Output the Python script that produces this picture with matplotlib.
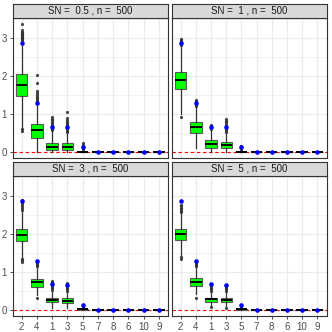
import matplotlib
matplotlib.use("Agg")
import matplotlib.pyplot as plt
import numpy as np

plt.rcParams["font.family"] = ["Liberation Sans", "DejaVu Sans"]

categories = ["2", "4", "1", "3", "5", "7", "8", "6", "10", "9"]
panel_titles = ["SN =  0.5 , n =  500", "SN =  1 , n =  500",
                "SN =  3 , n =  500", "SN =  5 , n =  500"]

# per panel: q1, median, q3, whisker low, whisker high for each category
q1_vals = [
    [1.48, 0.38, 0.05, 0.05, 0.0, 0, 0, 0, 0, 0],
    [1.66, 0.49, 0.11, 0.10, 0.0, 0, 0, 0, 0, 0],
    [1.81, 0.60, 0.20, 0.18, 0.0, 0, 0, 0, 0, 0],
    [1.84, 0.63, 0.21, 0.20, 0.0, 0, 0, 0, 0, 0],
]
med_vals = [
    [1.77, 0.57, 0.14, 0.13, 0.0, 0, 0, 0, 0, 0],
    [1.90, 0.66, 0.22, 0.19, 0.0, 0, 0, 0, 0, 0],
    [1.97, 0.72, 0.26, 0.24, 0.005, 0, 0, 0, 0, 0],
    [1.99, 0.74, 0.27, 0.26, 0.005, 0, 0, 0, 0, 0],
]
q3_vals = [
    [2.06, 0.73, 0.25, 0.23, 0.01, 0, 0, 0, 0, 0],
    [2.12, 0.79, 0.31, 0.27, 0.01, 0, 0, 0, 0, 0],
    [2.14, 0.82, 0.32, 0.30, 0.01, 0, 0, 0, 0, 0],
    [2.12, 0.83, 0.32, 0.32, 0.01, 0, 0, 0, 0, 0],
]
wlo_vals = [
    [0.62, 0.0, 0.0, 0.0, 0.0, 0, 0, 0, 0, 0],
    [1.00, 0.11, 0.0, 0.0, 0.0, 0, 0, 0, 0, 0],
    [1.36, 0.38, 0.05, 0.05, 0.0, 0, 0, 0, 0, 0],
    [1.42, 0.40, 0.10, 0.08, 0.0, 0, 0, 0, 0, 0],
]
whi_vals = [
    [2.92, 1.25, 0.55, 0.50, 0.02, 0, 0, 0, 0, 0],
    [2.80, 1.20, 0.60, 0.52, 0.02, 0, 0, 0, 0, 0],
    [2.60, 1.12, 0.50, 0.48, 0.02, 0, 0, 0, 0, 0],
    [2.54, 1.12, 0.48, 0.48, 0.02, 0, 0, 0, 0, 0],
]
outliers = [
    [
        [2.95, 2.98, 3.0, 3.03, 3.05, 3.08, 3.1, 3.13, 3.16, 3.2, 3.38, 0.6, 0.56],
        [1.3, 1.34, 1.38, 1.42, 1.46, 1.5, 1.55, 1.61, 1.81, 2.03],
        [0.57, 0.6, 0.64, 0.68, 0.72, 0.76, 0.8, 0.84, 0.88, 0.93],
        [0.52, 0.56, 0.6, 0.64, 0.68, 0.72, 0.76, 0.8, 0.85, 0.9, 1.06],
        [0.04, 0.07, 0.1, 0.14, 0.18, 0.24],
        [], [], [], [], [],
    ],
    [
        [2.82, 2.86, 2.9, 2.94, 2.98, 0.93],
        [1.22, 1.25, 1.28, 1.31, 1.34, 1.38],
        [0.62, 0.65, 0.68, 0.71],
        [0.54, 0.58, 0.62, 0.66, 0.7, 0.74, 0.78, 0.82, 0.86],
        [0.04, 0.08, 0.12, 0.16],
        [], [], [], [], [],
    ],
    [
        [2.62, 2.68, 2.73, 2.78, 2.83, 2.89, 1.33, 1.3, 1.27],
        [1.14, 1.17, 1.2, 1.23, 1.26, 0.3],
        [0.52, 0.56, 0.6, 0.64, 0.68, 0.72, 0.75],
        [0.5, 0.54, 0.58, 0.62, 0.66, 0.7],
        [0.03, 0.06, 0.09, 0.12],
        [], [], [], [], [],
    ],
    [
        [2.57, 2.61, 2.65, 2.69, 2.73, 2.77, 1.39, 1.35],
        [1.14, 1.17, 1.2, 1.25, 0.32],
        [0.5, 0.54, 0.58, 0.62, 0.66, 0.07],
        [0.5, 0.54, 0.58, 0.62, 0.65, 0.04],
        [0.03, 0.06, 0.09, 0.12],
        [], [], [], [], [],
    ],
]
true_vals = [2.86, 1.28, 0.67, 0.65, 0.13, 0.0, 0.0, 0.0, 0.0, 0.0]

W, H = 332, 332
fig = plt.figure(figsize=(W / 100, H / 100), dpi=100)
fig.patch.set_facecolor("white")

# panel rectangles in pixels: (left, top, right, bottom)
panel_px = [(12.5, 18, 168, 158.5), (171.5, 18, 326.5, 158.5),
            (12.5, 176, 168, 316), (171.5, 176, 326.5, 316)]
strip_h = 14.5

xs = np.arange(1, len(categories) + 1)
for p, (l, t, r, b) in enumerate(panel_px):
    ax = fig.add_axes([l / W, 1 - b / H, (r - l) / W, (b - t) / H])
    ax.set_facecolor("white")

    stats = []
    for i in range(len(categories)):
        stats.append(dict(med=med_vals[p][i], q1=q1_vals[p][i], q3=q3_vals[p][i],
                          whislo=wlo_vals[p][i], whishi=whi_vals[p][i],
                          fliers=outliers[p][i]))
    ax.bxp(stats, positions=xs, widths=0.75, patch_artist=True, manage_ticks=False,
           boxprops=dict(facecolor="#00FF00", edgecolor="#595959", lw=0.8),
           medianprops=dict(color="black", lw=1.4),
           whiskerprops=dict(color="#333333", lw=0.9),
           capprops=dict(lw=0),
           flierprops=dict(marker="o", markersize=2.3, markerfacecolor="#333333",
                           markeredgecolor="none", alpha=0.9),
           zorder=3)
    ax.plot(xs, true_vals, "o", color="blue", markersize=3.3, zorder=5, lw=0,
            markeredgewidth=0)
    ax.axhline(0, color="red", ls=(0, (3, 2.5)), lw=0.8, zorder=2)

    ax.set_xlim(0.4, len(categories) + 0.6)
    ax.set_ylim(-0.168, 3.528)
    ax.set_yticks([0, 1, 2, 3])
    ax.set_yticks([0.5, 1.5, 2.5, 3.5], minor=True)
    ax.set_xticks(xs)
    ax.set_xticks([], minor=True)
    ax.grid(which="major", color="#EBEBEB", lw=0.9, zorder=0)
    ax.grid(which="minor", axis="y", color="#EBEBEB", lw=0.45, zorder=0)
    ax.set_axisbelow(True)

    for s in ax.spines.values():
        s.set_color("#333333")
        s.set_linewidth(0.8)
    ax.tick_params(which="major", length=2.5, width=0.6, color="#333333",
                   labelsize=7, labelcolor="#4D4D4D", pad=1.5)
    ax.tick_params(which="minor", length=0)
    if p % 2 == 1:
        ax.tick_params(axis="y", labelleft=False, length=0)
    if p < 2:
        ax.tick_params(axis="x", labelbottom=False, length=0)
    else:
        ax.set_xticklabels(categories)

    # strip
    sax = fig.add_axes([l / W, 1 - t / H, (r - l) / W, strip_h / H])
    sax.set_facecolor("#D9D9D9")
    sax.set_xticks([])
    sax.set_yticks([])
    for s in sax.spines.values():
        s.set_color("#333333")
        s.set_linewidth(0.8)
    sax.text(0.5, 0.5, panel_titles[p], ha="center", va="center",
             fontsize=7, color="#1A1A1A", transform=sax.transAxes)

fig.savefig("out.png", dpi=100, facecolor="white")
